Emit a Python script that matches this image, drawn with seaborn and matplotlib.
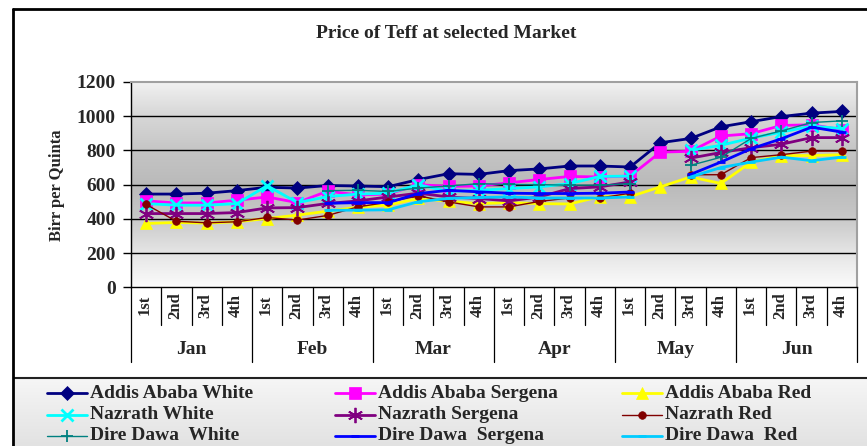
import numpy as np
import pandas as pd
import matplotlib
matplotlib.use("Agg")
import matplotlib.pyplot as plt
import matplotlib.transforms as mtransforms
from matplotlib.lines import Line2D
from matplotlib.colors import LinearSegmentedColormap
import seaborn as sns

# ---------------- data ----------------
weeks = ["1st", "2nd", "3rd", "4th"] * 6
months = ["Jan", "Feb", "Mar", "Apr", "May", "Jun"]
nan = np.nan

aa_white = [545, 545, 550, 565, 585, 580, 595, 592, 588, 630, 664, 660,
            682, 692, 709, 709, 703, 845, 870, 938, 968, 998, 1018, 1028]
aa_sergena = [505, 493, 493, 509, 528, 495, 562, 540, 545, 600, 590, 592,
              611, 630, 648, 645, 650, 790, 795, 884, 898, 946, 950, 921]
aa_red = [373, 379, 375, 383, 402, 422, 445, 468, 480, 520, 503, 489,
          495, 489, 487, 530, 530, 587, 645, 607, 732, 770, 770, 775]
nz_white = [489, 480, 480, 489, 594, 495, 530, 545, 550, 600, 560, 567,
            577, 587, 606, 648, 650, nan, 800, 830, 872, 907, 942, 928]
nz_sergena = [431, 431, 431, 437, 464, 466, 490, 505, 528, 550, 528, 519,
              505, 528, 577, 587, 616, nan, 755, 788, 816, 836, 875, 875]
nz_red = [484, 386, 377, 383, 408, 393, 420, 470, 497, 535, 499, 470,
          470, 502, 522, 522, 550, nan, 658, 658, 758, 775, 796, 796]
dd_white = [nan, nan, nan, nan, nan, nan, 565, 567, 560, 580, 592, 606,
            601, 600, 597, 597, 606, nan, 713, 760, 870, 914, 963, 973]
dd_sergena = [nan, nan, nan, nan, nan, nan, 491, 495, 495, 548, 567, 558,
              550, 548, 548, 550, 557, nan, 660, 732, 810, 868, 936, 907]
dd_red = [nan, nan, nan, nan, nan, nan, 450, 451, 453, 500, 520, 525,
          528, 522, 522, 522, 528, nan, 645, 700, 732, 761, 740, 761]

series_names = ["Addis Ababa White", "Addis Ababa Sergena", "Addis Ababa Red",
                "Nazrath White", "Nazrath Sergena", "Nazrath Red",
                "Dire Dawa  White", "Dire Dawa  Sergena", "Dire Dawa  Red"]
series_values = [aa_white, aa_sergena, aa_red, nz_white, nz_sergena, nz_red,
                 dd_white, dd_sergena, dd_red]

# styles: color, marker, markersize, linewidth, markeredgewidth
styles = [
    ("#000080", "D", 7, 2.0, 0.5),
    ("#FF00FF", "s", 8, 2.0, 0.5),
    ("#FFFF00", "^", 9, 2.0, 0.5),
    ("#00FFFF", "x", 8, 2.0, 2.0),
    ("#800080", (6, 2, 0), 11, 2.0, 1.3),
    ("#800000", "o", 5.5, 1.0, 0.5),
    ("#008080", "+", 8, 1.0, 1.3),
    ("#0000FF", "_", 6, 2.0, 2.0),
    ("#00CCFF", "_", 6, 2.0, 2.0),
]

# long-form table, with a segment id so gaps stay broken
rows = []
for name, vals in zip(series_names, series_values):
    seg = 0
    for i, v in enumerate(vals):
        if np.isnan(v):
            seg += 1
            continue
        rows.append({"series": name, "pos": i, "value": v, "seg": seg})
df = pd.DataFrame(rows)

# ---------------- figure ----------------
sns.set_theme(style="white")
plt.rcParams["font.family"] = ["Liberation Serif", "DejaVu Serif"]
plt.rcParams["font.weight"] = "bold"

W, H = 867, 446
fig = plt.figure(figsize=(W / 100, H / 100), dpi=100)
fig.patch.set_facecolor("white")


def px_rect(l, t, r, b):
    return [l / W, 1 - b / H, (r - l) / W, (b - t) / H]


ax = fig.add_axes(px_rect(131, 82, 857, 287.3))

# gradient background of plot area
bg_cmap = LinearSegmentedColormap.from_list(
    "bg", list(zip([0, .15, .35, .5, .65, .83, 1],
                   ["#f2f2f2", "#d9d9d9", "#c4c4c4", "#bababa", "#c6c6c6", "#e4e4e4", "#fbfbfb"])))
grad = np.linspace(0, 1, 256).reshape(-1, 1)
ax.imshow(grad, cmap=bg_cmap, aspect="auto", extent=[-0.5, 23.5, 0, 1200],
          origin="upper", zorder=0)

yt = list(range(0, 1201, 200))
for v in yt[1:-1]:
    ax.axhline(v, color="black", lw=1.0, zorder=1)

for name, (color, marker, ms, lw, mew) in zip(series_names, styles):
    sub = df[df["series"] == name]
    sns.lineplot(data=sub, x="pos", y="value", units="seg", estimator=None,
                 color=color, marker=marker, markersize=ms, linewidth=lw,
                 markeredgecolor=color, markeredgewidth=mew, ax=ax,
                 legend=False, zorder=3)

ax.set_xlim(-0.5, 23.5)
ax.set_ylim(0, 1200)
ax.set_yticks(yt)
ax.set_yticklabels([str(v) for v in yt], fontsize=14, fontweight="bold")
ax.set_xticks([])
ax.set_xlabel("")
ax.set_ylabel("")
ax.tick_params(axis="y", left=True, length=6, width=1, color="black", pad=5)
ax.spines["left"].set_color("black")
ax.spines["bottom"].set_color("black")
ax.spines["left"].set_linewidth(1.0)
ax.spines["bottom"].set_linewidth(1.0)
for s in ("top", "right"):
    ax.spines[s].set_color("#a0a0a0")
    ax.spines[s].set_linewidth(1.5)

# two-level category axis
trans = mtransforms.blended_transform_factory(ax.transData, ax.transAxes)
for i in range(25):
    x = i - 0.5
    yb = -0.364 if i % 4 == 0 else -0.184
    ax.plot([x, x], [0, yb], transform=trans, color="black", lw=0.9, clip_on=False)
for i, w in enumerate(weeks):
    ax.text(i - 0.05, -0.088, w, transform=trans, rotation=90, ha="center", va="center",
            fontsize=12, fontweight="bold")
for m, name in enumerate(months):
    ax.text(4 * m + 1.5, -0.305, name, transform=trans, ha="center", va="center",
            fontsize=14, fontweight="bold")

fig.text(446 / W, 1 - 33 / H, "Price of Teff at selected Market", ha="center",
         va="center", fontsize=14, fontweight="bold")
fig.text(57 / W, 1 - 185 / H, "Birr per Quinta", rotation=90, ha="center",
         va="center", fontsize=12, fontweight="bold")

# overlay for outer border and legend
ov = fig.add_axes([0, 0, 1, 1], zorder=5)
ov.patch.set_alpha(0)
leg_cmap = LinearSegmentedColormap.from_list("lg", ["#f6f6f6", "#e2e2e2"])
ov.imshow(grad, cmap=leg_cmap, aspect="auto", extent=[14, W, H, 378],
          origin="upper", zorder=0)
ov.plot([14, W], [378, 378], color="#222222", lw=1.5)
ov.plot([13, 13], [9, H], color="black", lw=2)
ov.plot([13, W], [9, 9], color="black", lw=2)

leg_rows = [393, 414.5, 436]
leg_cols = [47, 335, 622]
for k, (name, (color, marker, ms, lw, mew)) in enumerate(zip(series_names, styles)):
    r, c = divmod(k, 3)
    x0 = leg_cols[c]
    y = leg_rows[r]
    ln = Line2D([x0, x0 + 20, x0 + 40], [y, y, y], color=color, lw=lw,
                marker=marker, markersize=ms, markeredgecolor=color,
                markeredgewidth=mew, markevery=[1])
    ov.add_line(ln)
    ov.text(x0 + 43, y, name, ha="left", va="center", fontsize=14,
            fontweight="bold")

ov.set_xlim(0, W)
ov.set_ylim(H, 0)
ov.axis("off")

fig.savefig("out.png", dpi=100)
